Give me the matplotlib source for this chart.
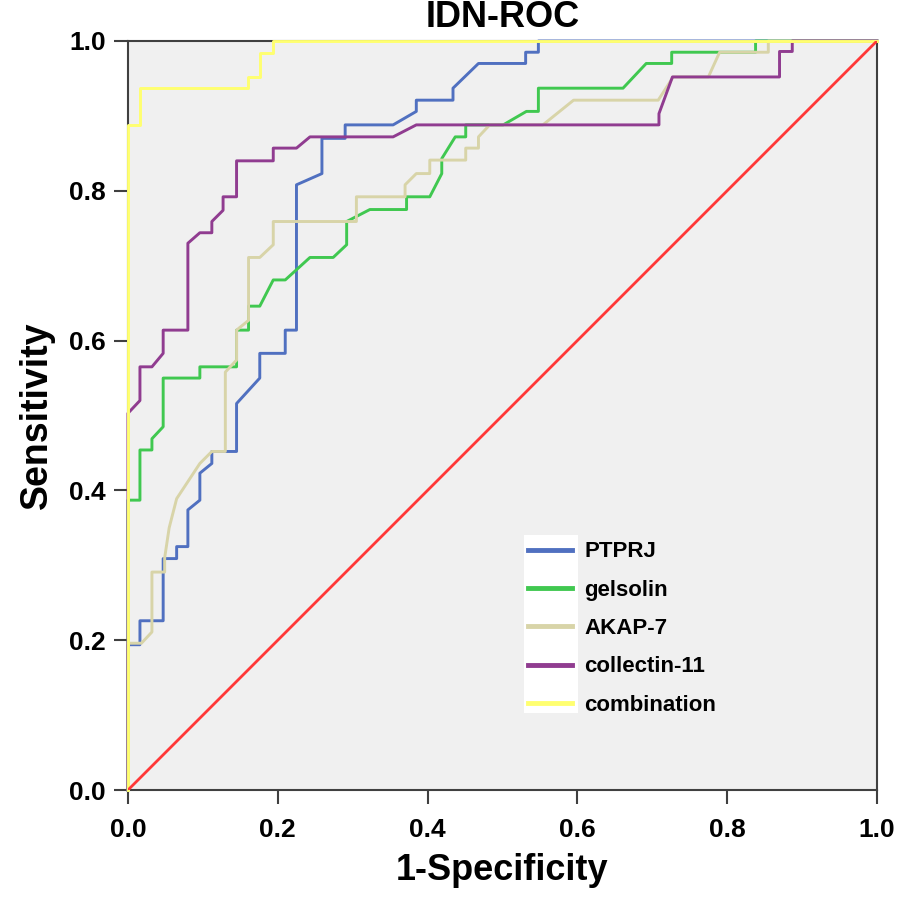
import matplotlib
matplotlib.use('Agg')
import matplotlib.pyplot as plt
from matplotlib.patches import Rectangle

plt.rcParams['font.family'] = ['Liberation Sans', 'DejaVu Sans']

# ROC curves (1-specificity, sensitivity)
ptprj_x = [0, 0, 0.016, 0.016, 0.047, 0.047, 0.065, 0.065, 0.080, 0.080, 0.096, 0.096, 0.112, 0.112,
           0.145, 0.145, 0.176, 0.176, 0.210, 0.210, 0.225, 0.225, 0.259, 0.259, 0.290, 0.290, 0.354,
           0.385, 0.385, 0.434, 0.434, 0.468, 0.531, 0.531, 0.548, 0.548, 1.0]
ptprj_y = [0, 0.194, 0.194, 0.226, 0.226, 0.309, 0.309, 0.325, 0.325, 0.374, 0.387, 0.423, 0.436, 0.452,
           0.452, 0.516, 0.550, 0.583, 0.583, 0.614, 0.614, 0.808, 0.823, 0.870, 0.870, 0.888, 0.888,
           0.906, 0.921, 0.921, 0.937, 0.970, 0.970, 0.985, 0.985, 1.0, 1.0]

gels_x = [0, 0, 0.016, 0.016, 0.032, 0.032, 0.047, 0.047, 0.096, 0.096, 0.145, 0.145, 0.161, 0.161,
          0.176, 0.194, 0.210, 0.243, 0.274, 0.292, 0.292, 0.323, 0.372, 0.372, 0.403, 0.419, 0.419,
          0.437, 0.451, 0.451, 0.501, 0.532, 0.548, 0.548, 0.661, 0.692, 0.726, 0.726, 0.838, 0.838, 1.0]
gels_y = [0, 0.387, 0.387, 0.454, 0.454, 0.469, 0.485, 0.550, 0.550, 0.565, 0.565, 0.614, 0.614, 0.646,
          0.646, 0.681, 0.681, 0.711, 0.711, 0.728, 0.759, 0.775, 0.775, 0.792, 0.792, 0.823, 0.843,
          0.872, 0.872, 0.888, 0.888, 0.906, 0.906, 0.937, 0.937, 0.970, 0.970, 0.985, 0.985, 1.0, 1.0]

akap_x = [0, 0, 0.018, 0.032, 0.032, 0.049, 0.049, 0.055, 0.065, 0.096, 0.112, 0.130, 0.130, 0.145,
          0.145, 0.161, 0.161, 0.176, 0.194, 0.194, 0.305, 0.305, 0.370, 0.370, 0.385, 0.403, 0.403,
          0.451, 0.451, 0.468, 0.468, 0.483, 0.554, 0.595, 0.708, 0.728, 0.775, 0.790, 0.855, 0.855, 1.0]
akap_y = [0, 0.196, 0.196, 0.211, 0.291, 0.291, 0.310, 0.350, 0.389, 0.436, 0.452, 0.452, 0.558, 0.574,
          0.614, 0.627, 0.711, 0.711, 0.728, 0.759, 0.759, 0.792, 0.792, 0.808, 0.823, 0.823, 0.841,
          0.841, 0.857, 0.857, 0.872, 0.888, 0.888, 0.921, 0.921, 0.952, 0.952, 0.985, 0.985, 1.0, 1.0]

coll_x = [0, 0, 0.016, 0.016, 0.032, 0.047, 0.047, 0.080, 0.080, 0.096, 0.112, 0.112, 0.127, 0.127,
          0.145, 0.145, 0.194, 0.194, 0.225, 0.243, 0.354, 0.385, 0.709, 0.709, 0.727, 0.870, 0.870,
          0.887, 0.887, 1.0]
coll_y = [0, 0.503, 0.520, 0.565, 0.565, 0.583, 0.614, 0.614, 0.730, 0.744, 0.744, 0.759, 0.774, 0.792,
          0.792, 0.840, 0.840, 0.857, 0.857, 0.872, 0.872, 0.888, 0.888, 0.903, 0.952, 0.952, 0.986,
          0.986, 1.0, 1.0]

comb_x = [0, 0, 0.016, 0.016, 0.160, 0.160, 0.176, 0.176, 0.194, 0.194, 1.0]
comb_y = [0, 0.888, 0.888, 0.937, 0.937, 0.952, 0.952, 0.984, 0.984, 1.0, 1.0]

labels = ['PTPRJ', 'gelsolin', 'AKAP-7', 'collectin-11', 'combination']
colors = ['#5070c0', '#40c850', '#d8d4a8', '#903c90', '#ffff70']

fig = plt.figure(figsize=(8.98, 8.99), dpi=100)
ax = fig.add_axes([0.1425, 0.1212, 0.834, 0.8332])
ax.set_facecolor('#f0f0f0')

curves = [(ptprj_x, ptprj_y), (gels_x, gels_y), (akap_x, akap_y), (coll_x, coll_y), (comb_x, comb_y)]
for (cx, cy), lab, col in zip(curves, labels, colors):
    ax.plot(cx, cy, color=col, lw=2.1, label=lab, clip_on=False, zorder=3)
ax.plot([0, 1], [0, 1], color='#ff3838', lw=2.0, zorder=3)

ax.set_xlim(0, 1)
ax.set_ylim(0, 1)
ticks = [0.0, 0.2, 0.4, 0.6, 0.8, 1.0]
ax.set_xticks(ticks)
ax.set_yticks(ticks)
ax.set_xticklabels(['%.1f' % t for t in ticks], fontsize=19, fontweight='bold')
ax.set_yticklabels(['%.1f' % t for t in ticks], fontsize=19, fontweight='bold')
ax.tick_params(direction='out', length=10, width=1.5, color='#404040', pad=6)
ax.tick_params(axis='x', pad=10)
for s in ax.spines.values():
    s.set_color('#404040')
    s.set_linewidth(1.5)

ax.set_xlabel('1-Specificity', fontsize=26, fontweight='bold', labelpad=8)
ax.set_ylabel('Sensitivity', fontsize=27, fontweight='bold', labelpad=10)
ax.set_title('IDN-ROC', fontsize=26, fontweight='bold', pad=10)

# white strip behind the legend handles
ax.add_patch(Rectangle((0.529, 0.103), 0.072, 0.237, transform=ax.transAxes,
                       facecolor='white', edgecolor='none', zorder=2))
leg = ax.legend(loc='upper left', bbox_to_anchor=(0.534, 0.332), frameon=False,
                prop={'size': 16, 'weight': 'bold'}, handlelength=2.0, handletextpad=0.55,
                labelspacing=0.78, borderpad=0, borderaxespad=0)
for line in leg.get_lines():
    line.set_linewidth(3.5)

fig.savefig('out.png', dpi=100)
